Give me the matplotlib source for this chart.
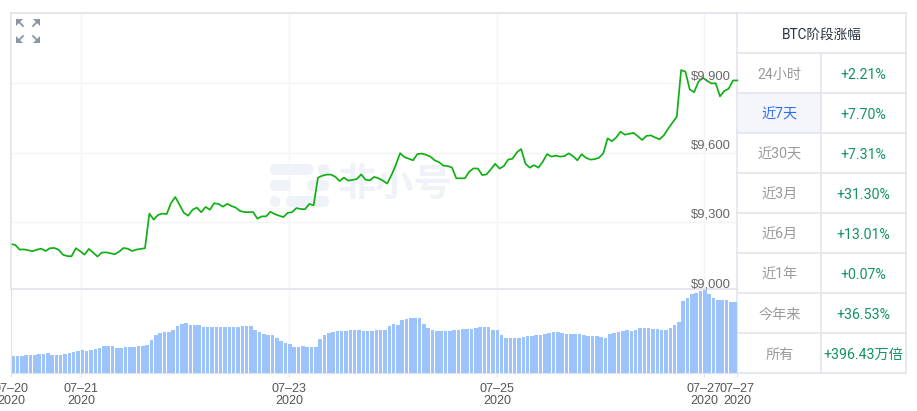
import numpy as np
import matplotlib
matplotlib.use("Agg")
import matplotlib.pyplot as plt
from matplotlib.patches import FancyBboxPatch, Polygon, Rectangle

# hourly BTC price
price = [9204,9200,9180,9181,9177,9173,9180,9184,9174,9186,9187,9180,9158,9152,9151,9186,9173,9158,9183,9167,
         9150,9167,9168,9164,9160,9171,9187,9184,9174,9180,9183,9186,9336,9310,9330,9336,9334,9381,9408,9373,
         9339,9327,9353,9362,9342,9365,9353,9381,9378,9366,9378,9369,9362,9347,9343,9342,9343,9314,9324,9324,
         9344,9334,9327,9321,9339,9342,9360,9356,9355,9378,9372,9492,9500,9505,9505,9496,9477,9492,9479,9482,
         9486,9506,9483,9480,9495,9489,9479,9466,9503,9546,9598,9581,9574,9567,9594,9596,9591,9583,9567,9559,
         9544,9542,9536,9489,9489,9489,9518,9532,9531,9503,9506,9528,9552,9531,9542,9570,9574,9601,9616,9552,
         9535,9546,9535,9561,9594,9583,9587,9583,9585,9597,9585,9567,9593,9578,9570,9572,9578,9597,9662,9650,
         9666,9691,9678,9682,9686,9671,9655,9673,9675,9666,9658,9675,9704,9730,9756,9958,9951,9874,9862,9907,
         9925,9912,9900,9901,9844,9868,9877,9913,9913]

# volume, no scale shown in the chart so relative units
volume = [51,52,53,54,54,55,57,59,61,54,56,54,58,60,63,67,69,66,70,72,76,81,82,81,77,77,79,79,80,81,81,84,
          100,116,121,124,124,131,143,149,152,146,145,144,140,138,138,139,139,140,140,140,140,141,142,142,
          129,123,118,116,114,107,96,90,87,78,79,81,80,80,80,
          103,116,122,124,126,128,128,129,129,129,128,128,128,
          129,129,130,143,147,146,161,163,165,165,167,147,136,130,128,127,126,126,129,131,
          134,133,133,136,138,140,140,130,129,116,105,106,105,105,109,111,113,114,114,119,
          122,123,123,122,117,117,117,117,114,111,113,112,110,105,117,122,123,127,129,128,
          131,135,137,136,133,133,131,131,135,144,155,216,227,238,242,246,249,237,227,221,
          219,219,213,215,210]

date_ticks = [0, 16.3, 64.3, 112.5, 160.3, 168]
date_labels = ["07\u201320\n2020", "07\u201321\n2020", "07\u201323\n2020",
               "07\u201325\n2020", "07\u201327\n2020", "07\u201327\n2020"]
price_ticks = [9900, 9600, 9300, 9000]
price_labels = ["$9,900", "$9,600", "$9,300", "$9,000"]

periods = ["24小时", "近7天", "近30天", "近3月", "近6月", "近1年", "今年来", "所有"]
changes = ["+2.21%", "+7.70%", "+7.31%", "+31.30%", "+13.01%", "+0.07%", "+36.53%", "+396.43万倍"]

W, H = 917, 411
LINE = "#e2e2ee"
GRID = "#f3f4f8"
FONT = ["Roboto", "Noto Sans CJK SC"]


def axes_px(left, top, right, bottom):
    return [left / W, 1 - bottom / H, (right - left) / W, (bottom - top) / H]


fig = plt.figure(figsize=(W / 100, H / 100), dpi=100)

# background layer in pixel coords: watermark, icon and the table
bg = fig.add_axes([0, 0, 1, 1], zorder=0)
bg.set_xlim(0, W)
bg.set_ylim(H, 0)
bg.axis("off")

mark = "#eff2f8"
for x0, y0, x1, y1 in [(270, 164, 313, 175), (318, 164, 329, 175), (270, 180, 291, 191),
                       (307, 180, 329, 191), (270, 196, 280, 207), (286, 196, 329, 207)]:
    bg.add_patch(FancyBboxPatch((x0 + 5, y0 + 5), x1 - x0 - 10, y1 - y0 - 10,
                                boxstyle="round,pad=5", fc=mark, ec="none"))
bg.text(395, 184, "非小号", fontsize=27.5, color=mark, fontweight="bold",
        family="Noto Sans CJK SC", ha="center", va="center")

# expand icon
for cx, cy, sx, sy in [(16, 19, 1, 1), (40, 19, -1, 1), (16, 43, 1, -1), (40, 43, -1, -1)]:
    bg.add_patch(Polygon([(cx, cy), (cx + 7 * sx, cy), (cx, cy + 7 * sy)], fc="#8a96a3", ec="none"))
    bg.plot([cx + 2 * sx, cx + 7 * sx], [cy + 2 * sy, cy + 7 * sy], color="#8a96a3", lw=1.3)

# table
tx0, tx1, tx2 = 737.3, 821.3, 906.3
rows_top = 53.3
row_h = 40
bg.add_patch(Rectangle((tx0, rows_top + row_h), tx1 - tx0, row_h, fc="#f5f6fc", ec="none"))
for i in range(10):
    y = 13.3 + i * row_h
    bg.plot([tx0, tx2], [y, y], color=LINE, lw=1.1)
bg.plot([tx0, tx0], [13.3, 373.3], color=LINE, lw=1.1)
bg.plot([tx2, tx2], [13.3, 373.3], color=LINE, lw=1.1)
bg.plot([tx1, tx1], [53.3, 373.3], color=LINE, lw=1.1)
bg.text((tx0 + tx2) / 2, 34.5, "BTC阶段涨幅", fontsize=9.8, color="#2a3340",
        family=FONT, ha="center", va="center")
for i, (p, c) in enumerate(zip(periods, changes)):
    y = rows_top + row_h * (i + 0.5) + 1.5
    col = "#2f6bf2" if p == "近7天" else "#9a9a9e"
    bg.text((tx0 + tx1) / 2, y, p, fontsize=10.2, color=col, family=FONT, ha="center", va="center")
    bg.text((tx1 + tx2) / 2, y, c, fontsize=10.2, color="#14935f", family=FONT, ha="center", va="center")

# price panel
ax = fig.add_axes(axes_px(11, 13.3, 737.3, 289.3), zorder=1)
ax.patch.set_alpha(0)
hours = np.arange(len(price))
ax.set_xlim(0, 168)
ax.set_ylim(9008, 10204)
ax.set_yticks(price_ticks[:3])
ax.set_xticks(date_ticks[1:5])
ax.grid(True, color=GRID, lw=1)
ax.set_axisbelow(True)
ax.tick_params(length=0, labelleft=False, labelbottom=False)
ax.spines["right"].set_visible(False)
for side in ["left", "top", "bottom"]:
    ax.spines[side].set_color(LINE)
    ax.spines[side].set_linewidth(1.2)
ax.plot(hours, price, color="#10b015", lw=1.25, clip_on=False)
for val, lab in zip(price_ticks, price_labels):
    ax.annotate(lab, xy=(168, val), xytext=(-7, 1), textcoords="offset pixels", ha="right", va="bottom",
                fontsize=9.4, color="#666666", family="Liberation Sans", annotation_clip=False)

# volume panel
vax = fig.add_axes(axes_px(11, 290, 737.3, 373.3), zorder=1)
vax.patch.set_alpha(0)
vax.bar(np.arange(len(volume)) + 0.5, volume, width=0.82, color="#9dc3fd")
vax.set_xlim(0, 168)
vax.set_ylim(0, 250)
vax.set_yticks([])
vax.set_xticks(date_ticks)
vax.set_xticklabels(date_labels, fontsize=9, color="#555555", family="Liberation Sans", linespacing=1.0)
vax.grid(True, axis="x", color=GRID, lw=1)
vax.set_axisbelow(True)
vax.tick_params(axis="x", length=3, color=LINE, pad=4)
for side in ["top", "right"]:
    vax.spines[side].set_visible(False)
for side in ["left", "bottom"]:
    vax.spines[side].set_color(LINE)

fig.savefig("out.png", dpi=100)
